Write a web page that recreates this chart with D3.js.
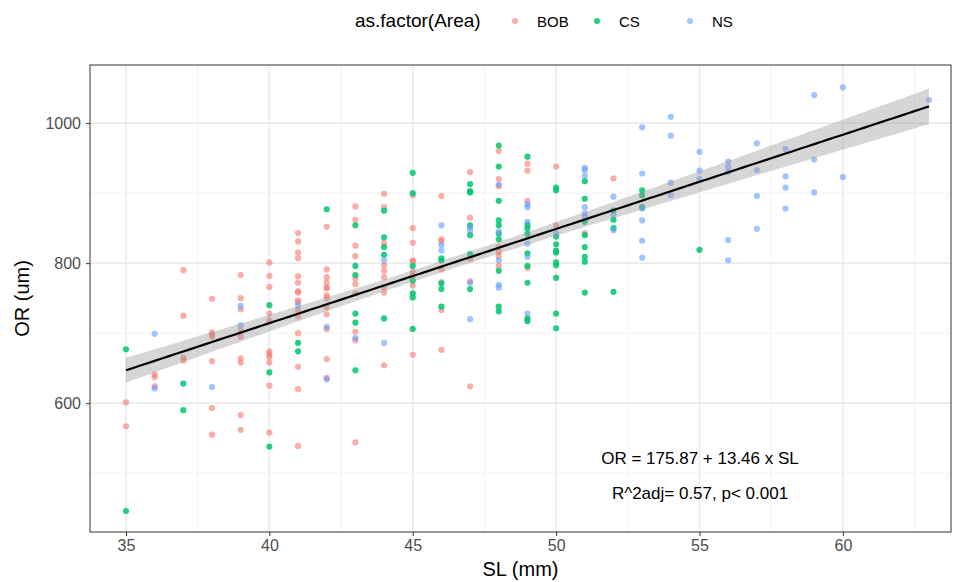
<!DOCTYPE html>
<html>
<head>
<meta charset="utf-8">
<script src="https://cdn.jsdelivr.net/npm/d3@7"></script>
<style>
  body { margin: 0; background: #fff; }
  text { font-family: "Liberation Sans", Arial, sans-serif; }
</style>
</head>
<body>
<svg id="chart" width="966" height="582"></svg>
<script>
// areas and colours
const areas = ["BOB", "CS", "NS"];
const areaColors = ["#F8766D", "#00C66E", "#619CFF"];

// points: [SL, OR]
const bobPoints = [
  [35,601],[35,567],
  [36,641],[36,637],[36,624],
  [37,790],[37,725],[37,665],[37,661],
  [38,749],[38,701],[38,698],[38,695],[38,660],[38,593],[38,555],
  [39,783],[39,750],[39,734],[39,704],[39,695],[39,664],[39,658],[39,583],[39,562],
  [40,801],[40,782],[40,766],[40,728],[40,718],[40,674],[40,670],[40,666],[40,658],[40,625],[40,558],
  [41,843],[41,831],[41,815],[41,807],[41,781],[41,772],[41,760],[41,758],[41,747],[41,744],[41,733],[41,724],[41,700],[41,652],[41,620],[41,539],
  [42,852],[42,791],[42,780],[42,772],[42,765],[42,764],[42,754],[42,750],[42,737],[42,727],[42,706],[42,663],[42,636],
  [43,881],[43,862],[43,825],[43,810],[43,778],[43,770],[43,757],[43,702],[43,690],[43,544],
  [44,899],[44,880],[44,829],[44,797],[44,789],[44,780],[44,766],[44,758],[44,654],
  [45,897],[45,850],[45,829],[45,804],[45,802],[45,788],[45,782],[45,768],[45,669],
  [46,896],[46,834],[46,831],[46,791],[46,773],[46,733],[46,676],
  [47,930],[47,865],[47,806],[47,774],[47,624],
  [48,960],[48,920],[48,910],[48,823],[48,816],[48,810],[48,796],
  [49,942],[49,932],[49,889],[49,793],
  [50,938],[50,854],
  [51,843],
  [52,921]
];
const csPoints = [
  [35,677],[35,446],
  [37,628],[37,590],
  [40,740],[40,644],[40,538],
  [41,686],[41,674],
  [42,877],
  [43,854],[43,796],[43,783],[43,728],[43,715],[43,647],
  [44,875],[44,837],[44,823],[44,812],[44,721],
  [45,929],[45,900],[45,796],[45,775],[45,757],[45,751],[45,706],
  [46,807],[46,804],[46,771],[46,763],[46,738],
  [47,913],[47,903],[47,901],[47,854],[47,840],[47,813],[47,763],
  [48,968],[48,938],[48,889],[48,861],[48,854],[48,842],[48,834],[48,789],[48,738],[48,731],
  [49,952],[49,855],[49,850],[49,842],[49,814],[49,796],[49,772],[49,721],[49,717],
  [50,908],[50,904],[50,838],[50,827],[50,818],[50,815],[50,801],[50,797],[50,779],[50,728],[50,707],
  [51,917],[51,892],[51,859],[51,840],[51,823],[51,809],[51,802],[51,758],
  [52,875],[52,862],[52,850],[52,759],
  [53,904],[53,897],[53,880],
  [55,819]
];
const nsPoints = [
  [36,699],[36,621],
  [38,623],
  [39,739],[39,711],
  [41,740],
  [42,709],[42,634],
  [43,693],
  [44,804],[44,686],
  [46,854],[46,826],[46,818],
  [47,851],[47,846],[47,772],[47,720],
  [48,912],[48,845],[48,804],[48,769],[48,765],
  [49,884],[49,880],[49,859],[49,828],[49,809],[49,728],
  [50,842],
  [51,936],[51,933],[51,925],[51,880],[51,871],[51,866],
  [52,895],[52,869],[52,847],
  [53,994],[53,928],[53,878],[53,861],[53,832],[53,808],
  [54,1009],[54,982],[54,915],[54,897],
  [55,959],[55,932],[55,920],
  [56,945],[56,937],[56,930],[56,833],[56,804],
  [57,971],[57,933],[57,896],[57,849],
  [58,963],[58,924],[58,908],[58,878],
  [59,1040],[59,948],[59,901],
  [60,1051],[60,923],
  [63,1033]
];
const areaPoints = [bobPoints, csPoints, nsPoints];

// fitted line from the annotation
const intercept = 175.87;
const slope = 13.46;
const eqLabel = "OR = 175.87 + 13.46 x SL";
const fitLabel = "R^2adj= 0.57, p< 0.001";

const xTicks = [35, 40, 45, 50, 55, 60];
const yTicks = [600, 800, 1000];
const xMinor = [37.5, 42.5, 47.5, 52.5, 57.5, 62.5];
const yMinor = [500, 700, 900];

const svg = d3.select("#chart");
const L = 90, R = 951, T = 65, B = 532;

const x = d3.scaleLinear().domain([33.745, 63.77]).range([L, R]);
const y = d3.scaleLinear().domain([416, 1083]).range([B, T]);

const g = svg.append("g");

// grid
g.selectAll(".ymin").data(yMinor).enter().append("line")
  .attr("x1", L).attr("x2", R).attr("y1", d => y(d)).attr("y2", d => y(d))
  .attr("stroke", "#f2f2f2").attr("stroke-width", 1);
g.selectAll(".xmin").data(xMinor).enter().append("line")
  .attr("y1", T).attr("y2", B).attr("x1", d => x(d)).attr("x2", d => x(d))
  .attr("stroke", "#f2f2f2").attr("stroke-width", 1);
g.selectAll(".ymaj").data(yTicks).enter().append("line")
  .attr("x1", L).attr("x2", R).attr("y1", d => y(d)).attr("y2", d => y(d))
  .attr("stroke", "#ebebeb").attr("stroke-width", 1.6);
g.selectAll(".xmaj").data(xTicks).enter().append("line")
  .attr("y1", T).attr("y2", B).attr("x1", d => x(d)).attr("x2", d => x(d))
  .attr("stroke", "#ebebeb").attr("stroke-width", 1.6);

// points
areaPoints.forEach((pts, i) => {
  g.append("g").selectAll("circle").data(pts).enter().append("circle")
    .attr("cx", d => x(d[0]))
    .attr("cy", d => y(d[1]))
    .attr("r", 3.1)
    .attr("fill", areaColors[i])
    .attr("fill-opacity", i === 1 ? 0.85 : 0.6);
});

// confidence band (95%) from the points and the fitted line
const all = areaPoints.flat();
const n = all.length;
const xbar = d3.mean(all, d => d[0]);
const sxx = d3.sum(all, d => (d[0] - xbar) ** 2);
const s = Math.sqrt(d3.sum(all, d => (d[1] - (intercept + slope * d[0])) ** 2) / (n - 2));
const tq = 1.97;
const xs = d3.range(35, 63.001, 0.25);
const band = xs.map(v => {
  const fit = intercept + slope * v;
  const se = s * Math.sqrt(1 / n + (v - xbar) ** 2 / sxx);
  return { v, lo: fit - tq * se, hi: fit + tq * se, fit };
});

g.append("path")
  .datum(band)
  .attr("d", d3.area().x(d => x(d.v)).y0(d => y(d.lo)).y1(d => y(d.hi)))
  .attr("fill", "#999").attr("fill-opacity", 0.4);

g.append("path")
  .datum(band)
  .attr("d", d3.line().x(d => x(d.v)).y(d => y(d.fit)))
  .attr("fill", "none").attr("stroke", "#000").attr("stroke-width", 2.2);

// annotations
g.append("text").attr("x", 700).attr("y", 464).attr("text-anchor", "middle")
  .style("font-size", "17px").attr("fill", "#000").text(eqLabel);
g.append("text").attr("x", 700).attr("y", 499).attr("text-anchor", "middle")
  .style("font-size", "17px").attr("fill", "#000").text(fitLabel);

// panel border
g.append("rect").attr("x", L).attr("y", T).attr("width", R - L).attr("height", B - T)
  .attr("fill", "none").attr("stroke", "#333").attr("stroke-width", 1);

// axes
const xAxis = svg.append("g").attr("transform", `translate(0,${B})`)
  .call(d3.axisBottom(x).tickValues(xTicks).tickSize(4).tickPadding(4).tickFormat(d3.format("d")));
const yAxis = svg.append("g").attr("transform", `translate(${L},0)`)
  .call(d3.axisLeft(y).tickValues(yTicks).tickSize(4).tickPadding(5).tickFormat(d3.format("d")));
[xAxis, yAxis].forEach(a => {
  a.select(".domain").remove();
  a.selectAll("line").attr("stroke", "#333");
  a.selectAll("text").attr("fill", "#4d4d4d")
    .style("font-size", "16px").style("font-family", "'Liberation Sans', Arial, sans-serif");
});

svg.append("text").attr("x", (L + R) / 2).attr("y", 576).attr("text-anchor", "middle")
  .style("font-size", "20px").text("SL (mm)");
svg.append("text").attr("transform", `translate(29,${(T + B) / 2}) rotate(-90)`)
  .attr("text-anchor", "middle").style("font-size", "20px").text("OR (um)");

// legend
svg.append("text").attr("x", 355).attr("y", 27).style("font-size", "19px").text("as.factor(Area)");
const legX = [515, 597, 690];
areas.forEach((a, i) => {
  svg.append("circle").attr("cx", legX[i]).attr("cy", 21).attr("r", 3)
    .attr("fill", areaColors[i]).attr("fill-opacity", i === 1 ? 0.85 : 0.6);
  svg.append("text").attr("x", legX[i] + 22).attr("y", 27).style("font-size", "15px").text(a);
});
</script>
</body>
</html>
